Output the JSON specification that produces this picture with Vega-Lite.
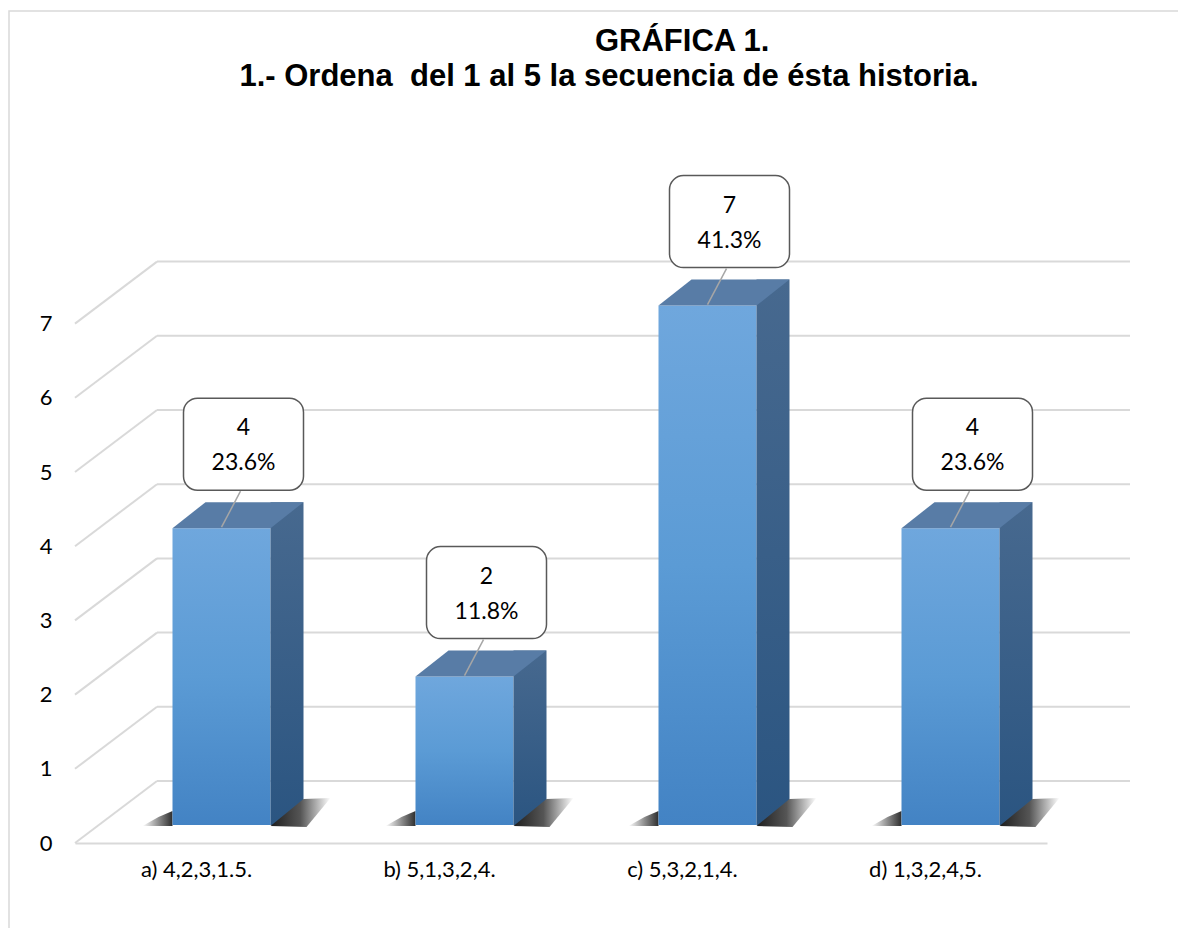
{
  "$schema": "https://vega.github.io/schema/vega-lite/v6.json",
  "width": 1169,
  "height": 917,
  "autosize": "none",
  "padding": {"left": 9, "top": 11, "right": 0, "bottom": 0},
  "background": "white",
  "title": {
    "text": ["\u200b\u00a0\u00a0\u00a0\u00a0\u00a0\u00a0\u00a0\u00a0\u00a0\u00a0\u00a0\u00a0\u00a0\u00a0\u00a0\u00a0\u00a0GRÁFICA 1.", "1.- Ordena\u00a0 del 1 al 5 la secuencia de ésta historia."],
    "font": "Liberation Sans",
    "fontSize": 31,
    "fontWeight": "bold",
    "color": "#000000",
    "anchor": "middle",
    "frame": "group",
    "dx": 15.5,
    "offset": -82,
    "lineHeight": 35
  },
  "config": {"view": {"stroke": "#d9d9d9", "strokeWidth": 1.5, "strokeDash": [1169, 2086, 917]}},
  "datasets": {
    "votos": [
      {"opcion": "a) 4,2,3,1.5.", "n": 4, "pct": 0.236},
      {"opcion": "b) 5,1,3,2,4.", "n": 2, "pct": 0.118},
      {"opcion": "c) 5,3,2,1,4.", "n": 7, "pct": 0.413},
      {"opcion": "d) 1,3,2,4,5.", "n": 4, "pct": 0.236}
    ],
    "niveles": [{"k": 0}, {"k": 1}, {"k": 2}, {"k": 3}, {"k": 4}, {"k": 5}, {"k": 6}, {"k": 7}]
  },
  "layer": [
    {
      "data": {"name": "niveles"},
      "mark": {"type": "rule", "color": "#d9d9d9", "strokeWidth": 2, "xOffset": 82, "x2Offset": 204.5, "yOffset": -44},
      "encoding": {
        "x": {"datum": "a) 4,2,3,1.5.", "type": "nominal", "bandPosition": 0, "scale": {"type": "band", "paddingInner": 0, "paddingOuter": 0, "range": [66, 1038]},
          "axis": {"title": null, "orient": "bottom", "offset": -85, "domain": true, "domainColor": "#d9d9d9", "domainWidth": 2, "ticks": false, "grid": false, "labelAngle": 0, "labelFont": "Lato", "labelFontSize": 22, "labelColor": "#000000", "labelPadding": 16}},
        "x2": {"datum": "d) 1,3,2,4,5."},
        "y": {"field": "k", "type": "quantitative", "scale": {"domain": [0, 8], "nice": false, "range": [814, 220.4]},
          "axis": {"title": null, "orient": "left", "offset": -66, "values": [0, 1, 2, 3, 4, 5, 6, 7], "domain": false, "ticks": false, "grid": false, "labelFont": "Lato", "labelFontSize": 22, "labelColor": "#000000", "labelPadding": 23, "labelOffset": 18}}
      }
    },
    {
      "data": {"name": "niveles"},
      "mark": {"type": "rule", "color": "#d9d9d9", "strokeWidth": 2, "x2Offset": -39.5, "yOffset": 18, "y2Offset": -44},
      "encoding": {
        "x": {"datum": "a) 4,2,3,1.5.", "type": "nominal", "bandPosition": 0, "scale": {"type": "band", "paddingInner": 0, "paddingOuter": 0, "range": [66, 1038]},
          "axis": {"title": null, "orient": "bottom", "offset": -85, "domain": true, "domainColor": "#d9d9d9", "domainWidth": 2, "ticks": false, "grid": false, "labelAngle": 0, "labelFont": "Lato", "labelFontSize": 22, "labelColor": "#000000", "labelPadding": 16}},
        "x2": {"datum": "a) 4,2,3,1.5."},
        "y": {"field": "k", "type": "quantitative", "scale": {"domain": [0, 8], "nice": false, "range": [814, 220.4]},
          "axis": {"title": null, "orient": "left", "offset": -66, "values": [0, 1, 2, 3, 4, 5, 6, 7], "domain": false, "ticks": false, "grid": false, "labelFont": "Lato", "labelFontSize": 22, "labelColor": "#000000", "labelPadding": 23, "labelOffset": 18}},
        "y2": {"field": "k"}
      }
    },
    {
      "data": {"name": "votos"},
      "mark": {"type": "point", "shape": "M0,1L-30,1L-14,-8L0,-14Z", "size": 4, "filled": true, "opacity": 1, "strokeWidth": 0, "xOffset": -24,
        "color": {"gradient": "linear", "x1": 0, "y1": 0, "x2": 1, "y2": 0, "stops": [{"offset": 0, "color": "#ffffff"}, {"offset": 0.55, "color": "#8a8a8a"}, {"offset": 1, "color": "#2e2e2e"}]}},
      "encoding": {
        "x": {"field": "opcion", "type": "nominal", "scale": {"type": "band", "paddingInner": 0, "paddingOuter": 0, "range": [66, 1038]},
          "axis": {"title": null, "orient": "bottom", "offset": -85, "domain": true, "domainColor": "#d9d9d9", "domainWidth": 2, "ticks": false, "grid": false, "labelAngle": 0, "labelFont": "Lato", "labelFontSize": 22, "labelColor": "#000000", "labelPadding": 16}},
        "y": {"datum": 0, "type": "quantitative", "scale": {"domain": [0, 8], "nice": false, "range": [814, 220.4]},
          "axis": {"title": null, "orient": "left", "offset": -66, "values": [0, 1, 2, 3, 4, 5, 6, 7], "domain": false, "ticks": false, "grid": false, "labelFont": "Lato", "labelFontSize": 22, "labelColor": "#000000", "labelPadding": 23, "labelOffset": 18}}
      }
    },
    {
      "data": {"name": "votos"},
      "mark": {"type": "bar", "width": 98, "xOffset": 25,
        "color": {"gradient": "linear", "x1": 0, "y1": 0, "x2": 0, "y2": 1, "stops": [{"offset": 0, "color": "#6fa7dd"}, {"offset": 0.5, "color": "#5b9bd5"}, {"offset": 1, "color": "#4383c4"}]}},
      "encoding": {
        "x": {"field": "opcion", "type": "nominal", "scale": {"type": "band", "paddingInner": 0, "paddingOuter": 0, "range": [66, 1038]},
          "axis": {"title": null, "orient": "bottom", "offset": -85, "domain": true, "domainColor": "#d9d9d9", "domainWidth": 2, "ticks": false, "grid": false, "labelAngle": 0, "labelFont": "Lato", "labelFontSize": 22, "labelColor": "#000000", "labelPadding": 16}},
        "y": {"field": "n", "type": "quantitative", "scale": {"domain": [0, 8], "nice": false, "range": [814, 220.4]},
          "axis": {"title": null, "orient": "left", "offset": -66, "values": [0, 1, 2, 3, 4, 5, 6, 7], "domain": false, "ticks": false, "grid": false, "labelFont": "Lato", "labelFontSize": 22, "labelColor": "#000000", "labelPadding": 23, "labelOffset": 18}}
      }
    },
    {
      "data": {"name": "votos"},
      "mark": {"type": "bar", "width": 33, "xOffset": 90.5, "yOffset": -26, "y2Offset": 0,
        "color": {"gradient": "linear", "x1": 0, "y1": 0, "x2": 0, "y2": 1, "stops": [{"offset": 0, "color": "#47698f"}, {"offset": 1, "color": "#2b5581"}]}},
      "encoding": {
        "x": {"field": "opcion", "type": "nominal", "scale": {"type": "band", "paddingInner": 0, "paddingOuter": 0, "range": [66, 1038]},
          "axis": {"title": null, "orient": "bottom", "offset": -85, "domain": true, "domainColor": "#d9d9d9", "domainWidth": 2, "ticks": false, "grid": false, "labelAngle": 0, "labelFont": "Lato", "labelFontSize": 22, "labelColor": "#000000", "labelPadding": 16}},
        "y": {"field": "n", "type": "quantitative", "scale": {"domain": [0, 8], "nice": false, "range": [814, 220.4]},
          "axis": {"title": null, "orient": "left", "offset": -66, "values": [0, 1, 2, 3, 4, 5, 6, 7], "domain": false, "ticks": false, "grid": false, "labelFont": "Lato", "labelFontSize": 22, "labelColor": "#000000", "labelPadding": 23, "labelOffset": 18}},
        "y2": {"datum": 0}
      }
    },
    {
      "data": {"name": "votos"},
      "mark": {"type": "point", "shape": "M0,1L33,-26L60,-27L36,2Z", "size": 4, "filled": true, "opacity": 1, "strokeWidth": 0, "xOffset": 74,
        "color": {"gradient": "linear", "x1": 0, "y1": 0, "x2": 1, "y2": 0, "stops": [{"offset": 0, "color": "#1e1e1e"}, {"offset": 0.5, "color": "#555555"}, {"offset": 1, "color": "#ffffff"}]}},
      "encoding": {
        "x": {"field": "opcion", "type": "nominal", "scale": {"type": "band", "paddingInner": 0, "paddingOuter": 0, "range": [66, 1038]},
          "axis": {"title": null, "orient": "bottom", "offset": -85, "domain": true, "domainColor": "#d9d9d9", "domainWidth": 2, "ticks": false, "grid": false, "labelAngle": 0, "labelFont": "Lato", "labelFontSize": 22, "labelColor": "#000000", "labelPadding": 16}},
        "y": {"datum": 0, "type": "quantitative", "scale": {"domain": [0, 8], "nice": false, "range": [814, 220.4]},
          "axis": {"title": null, "orient": "left", "offset": -66, "values": [0, 1, 2, 3, 4, 5, 6, 7], "domain": false, "ticks": false, "grid": false, "labelFont": "Lato", "labelFontSize": 22, "labelColor": "#000000", "labelPadding": 23, "labelOffset": 18}}
      }
    },
    {
      "data": {"name": "votos"},
      "mark": {"type": "point", "shape": "M-49,0L49,0L82,-26L-16,-26Z", "size": 4, "filled": true, "opacity": 1, "strokeWidth": 0, "xOffset": 25, "color": "#587ca6"},
      "encoding": {
        "x": {"field": "opcion", "type": "nominal", "scale": {"type": "band", "paddingInner": 0, "paddingOuter": 0, "range": [66, 1038]},
          "axis": {"title": null, "orient": "bottom", "offset": -85, "domain": true, "domainColor": "#d9d9d9", "domainWidth": 2, "ticks": false, "grid": false, "labelAngle": 0, "labelFont": "Lato", "labelFontSize": 22, "labelColor": "#000000", "labelPadding": 16}},
        "y": {"field": "n", "type": "quantitative", "scale": {"domain": [0, 8], "nice": false, "range": [814, 220.4]},
          "axis": {"title": null, "orient": "left", "offset": -66, "values": [0, 1, 2, 3, 4, 5, 6, 7], "domain": false, "ticks": false, "grid": false, "labelFont": "Lato", "labelFontSize": 22, "labelColor": "#000000", "labelPadding": 23, "labelOffset": 18}}
      }
    },
    {
      "data": {"name": "votos"},
      "mark": {"type": "rule", "color": "#a6a6a6", "strokeWidth": 1.5, "xOffset": 44, "x2Offset": 25, "yOffset": -37, "y2Offset": -1},
      "encoding": {
        "x": {"field": "opcion", "type": "nominal", "scale": {"type": "band", "paddingInner": 0, "paddingOuter": 0, "range": [66, 1038]},
          "axis": {"title": null, "orient": "bottom", "offset": -85, "domain": true, "domainColor": "#d9d9d9", "domainWidth": 2, "ticks": false, "grid": false, "labelAngle": 0, "labelFont": "Lato", "labelFontSize": 22, "labelColor": "#000000", "labelPadding": 16}},
        "x2": {"field": "opcion"},
        "y": {"field": "n", "type": "quantitative", "scale": {"domain": [0, 8], "nice": false, "range": [814, 220.4]},
          "axis": {"title": null, "orient": "left", "offset": -66, "values": [0, 1, 2, 3, 4, 5, 6, 7], "domain": false, "ticks": false, "grid": false, "labelFont": "Lato", "labelFontSize": 22, "labelColor": "#000000", "labelPadding": 23, "labelOffset": 18}},
        "y2": {"field": "n"}
      }
    },
    {
      "data": {"name": "votos"},
      "mark": {"type": "bar", "width": 120, "xOffset": 47, "yOffset": -130, "y2Offset": -38, "cornerRadius": 14, "fill": "#ffffff", "stroke": "#595959", "strokeWidth": 1.5},
      "encoding": {
        "x": {"field": "opcion", "type": "nominal", "scale": {"type": "band", "paddingInner": 0, "paddingOuter": 0, "range": [66, 1038]},
          "axis": {"title": null, "orient": "bottom", "offset": -85, "domain": true, "domainColor": "#d9d9d9", "domainWidth": 2, "ticks": false, "grid": false, "labelAngle": 0, "labelFont": "Lato", "labelFontSize": 22, "labelColor": "#000000", "labelPadding": 16}},
        "y": {"field": "n", "type": "quantitative", "scale": {"domain": [0, 8], "nice": false, "range": [814, 220.4]},
          "axis": {"title": null, "orient": "left", "offset": -66, "values": [0, 1, 2, 3, 4, 5, 6, 7], "domain": false, "ticks": false, "grid": false, "labelFont": "Lato", "labelFontSize": 22, "labelColor": "#000000", "labelPadding": 23, "labelOffset": 18}},
        "y2": {"field": "n"}
      }
    },
    {
      "data": {"name": "votos"},
      "mark": {"type": "text", "font": "Lato", "fontSize": 23, "color": "#000000", "baseline": "middle", "align": "center", "xOffset": 47, "yOffset": -100},
      "encoding": {
        "x": {"field": "opcion", "type": "nominal", "scale": {"type": "band", "paddingInner": 0, "paddingOuter": 0, "range": [66, 1038]},
          "axis": {"title": null, "orient": "bottom", "offset": -85, "domain": true, "domainColor": "#d9d9d9", "domainWidth": 2, "ticks": false, "grid": false, "labelAngle": 0, "labelFont": "Lato", "labelFontSize": 22, "labelColor": "#000000", "labelPadding": 16}},
        "y": {"field": "n", "type": "quantitative", "scale": {"domain": [0, 8], "nice": false, "range": [814, 220.4]},
          "axis": {"title": null, "orient": "left", "offset": -66, "values": [0, 1, 2, 3, 4, 5, 6, 7], "domain": false, "ticks": false, "grid": false, "labelFont": "Lato", "labelFontSize": 22, "labelColor": "#000000", "labelPadding": 23, "labelOffset": 18}},
        "text": {"field": "n", "type": "quantitative"}
      }
    },
    {
      "data": {"name": "votos"},
      "mark": {"type": "text", "font": "Lato", "fontSize": 23, "color": "#000000", "baseline": "middle", "align": "center", "xOffset": 47, "yOffset": -65},
      "encoding": {
        "x": {"field": "opcion", "type": "nominal", "scale": {"type": "band", "paddingInner": 0, "paddingOuter": 0, "range": [66, 1038]},
          "axis": {"title": null, "orient": "bottom", "offset": -85, "domain": true, "domainColor": "#d9d9d9", "domainWidth": 2, "ticks": false, "grid": false, "labelAngle": 0, "labelFont": "Lato", "labelFontSize": 22, "labelColor": "#000000", "labelPadding": 16}},
        "y": {"field": "n", "type": "quantitative", "scale": {"domain": [0, 8], "nice": false, "range": [814, 220.4]},
          "axis": {"title": null, "orient": "left", "offset": -66, "values": [0, 1, 2, 3, 4, 5, 6, 7], "domain": false, "ticks": false, "grid": false, "labelFont": "Lato", "labelFontSize": 22, "labelColor": "#000000", "labelPadding": 23, "labelOffset": 18}},
        "text": {"field": "pct", "type": "quantitative", "format": ".1%"}
      }
    }
  ]
}
